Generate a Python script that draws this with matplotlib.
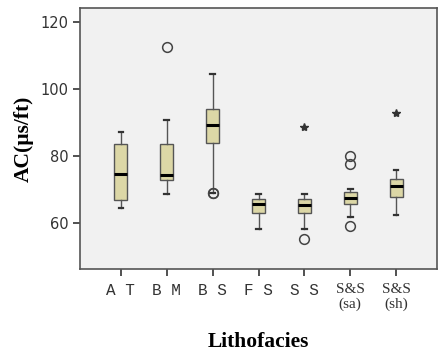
import matplotlib
matplotlib.use("Agg")
import matplotlib.pyplot as plt

# Lithofacies summary values (AC, us/ft)
facies = ["A T", "B M", "B S", "F S", "S S", "S&S\n(sa)", "S&S\n(sh)"]
whisk_lo = [64.4, 68.7, 68.9, 58.4, 58.4, 61.9, 62.4]
q1 = [66.9, 72.8, 84.0, 62.9, 63.0, 65.6, 67.9]
med = [74.8, 74.3, 89.3, 65.7, 65.4, 67.6, 71.0]
q3 = [83.5, 83.5, 94.0, 67.1, 67.1, 69.3, 73.3]
whisk_hi = [87.1, 90.7, 104.4, 68.7, 68.7, 70.2, 75.8]
circles = [[], [112.6], [68.9, 68.9], [], [55.4], [80.0, 77.6, 59.1], []]
stars = [[], [], [], [], [88.6], [], [92.8]]

stats = []
for i in range(len(facies)):
    stats.append({"whislo": whisk_lo[i], "q1": q1[i], "med": med[i],
                  "q3": q3[i], "whishi": whisk_hi[i], "fliers": circles[i]})

fig = plt.figure(figsize=(4.4, 3.54), dpi=100)
ax = fig.add_axes([0.182, 0.24, 0.811, 0.737])
ax.set_facecolor("#f1f1f1")

pos = list(range(1, len(facies) + 1))
ax.bxp(stats, positions=pos, widths=0.28, patch_artist=True,
       boxprops=dict(facecolor="#dcd7a6", edgecolor="#555555", linewidth=1.0),
       medianprops=dict(color="black", linewidth=2.2),
       whiskerprops=dict(color="#555555", linewidth=1.0),
       capprops=dict(color="#333333", linewidth=1.6),
       capwidths=0.1,
       flierprops=dict(marker="o", markersize=7, markerfacecolor="none",
                       markeredgecolor="#444444", markeredgewidth=1.1))

# extreme values drawn as stars
for i, vals in enumerate(stars):
    if vals:
        ax.plot([pos[i]] * len(vals), vals, linestyle="none", marker="*",
                markersize=6, color="#333333")

ax.set_xlim(0.11, 7.89)
ax.set_ylim(46.3, 124.2)
ax.set_yticks([60, 80, 100, 120])
ax.set_xticks(pos)
ax.set_xticklabels(facies, color="#333333")
for lab in ax.get_xticklabels():
    if "&" in lab.get_text():
        lab.set_family("Liberation Serif")
        lab.set_fontsize(11)
        lab.set_linespacing(1.15)
    else:
        lab.set_family("Liberation Mono")
        lab.set_fontsize(11.5)
ax.tick_params(axis="y", labelsize=10.5, colors="#333333", length=5, width=1.2)
ax.tick_params(axis="x", length=5, width=1.2, colors="#333333", pad=5)

for s in ax.spines.values():
    s.set_color("#555555")
    s.set_linewidth(1.2)

ax.set_ylabel("AC(\u00b5s/ft)", family="Liberation Serif", fontweight="bold",
              fontsize=15.5, labelpad=5)
ax.set_xlabel("Lithofacies", family="Liberation Serif", fontweight="bold",
              fontsize=15.5, labelpad=15)

plt.savefig("out.png", dpi=100)
plt.close()
